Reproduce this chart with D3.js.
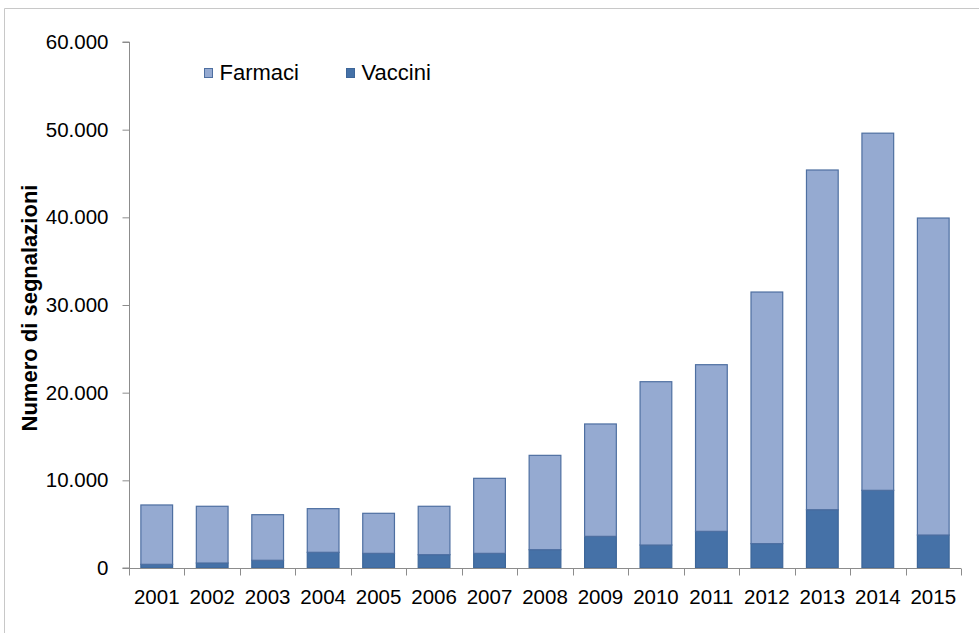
<!DOCTYPE html>
<html><head><meta charset="utf-8">
<script src="https://cdn.jsdelivr.net/npm/d3@7/dist/d3.min.js"></script>
<style>
body{margin:0;background:#fff;}
svg{display:block;font-family:"Liberation Sans",Arial,sans-serif;}
</style></head>
<body>
<svg id="c" width="979" height="633"></svg>
<script>
const years = ["2001","2002","2003","2004","2005","2006","2007","2008","2009","2010","2011","2012","2013","2014","2015"];
const vaccini = [420,570,880,1790,1670,1520,1670,2090,3610,2620,4180,2780,6650,8860,3760];
const farmaci = [6770,6470,5200,4980,4570,5520,8560,10760,12820,18630,19010,28700,38750,40740,36160];
const yTicks = [0,10000,20000,30000,40000,50000,60000];
const seriesNames = ["Farmaci","Vaccini"];

const svg = d3.select("#c");
// outer frame
svg.append("path").attr("d","M4.5,633 V8.5 H979").attr("fill","none").attr("stroke","#c8c8c8").attr("stroke-width",1);

const x = d3.scaleBand().domain(years).range([129,961]).paddingInner(0.41).paddingOuter(0.205);
const y = d3.scaleLinear().domain([0,60000]).range([568,42]);
const fmt = v => d3.format(",")(v).replace(/,/g,".");

const data = years.map((yr,i)=>({year:yr, vaccini:vaccini[i], farmaci:farmaci[i]}));
const stack = d3.stack().keys(["vaccini","farmaci"])(data);
const fills = {vaccini:"#4571A7", farmaci:"#95AAD1"};
const strokes = {vaccini:"#3D6699", farmaci:"#4E6FA1"};

stack.forEach(layer=>{
  svg.append("g").selectAll("rect").data(layer).join("rect")
    .attr("x",d=>x(d.data.year)+0.5)
    .attr("width",x.bandwidth()-1)
    .attr("y",d=>y(d[1]))
    .attr("height",d=>y(d[0])-y(d[1]))
    .attr("fill",fills[layer.key])
    .attr("stroke",strokes[layer.key])
    .attr("stroke-width",1.2);
});

// y axis
const yAxis = d3.axisLeft(y).tickValues(yTicks).tickFormat(fmt).tickSize(7).tickPadding(14);
const gy = svg.append("g").attr("transform","translate(129.5,0)").call(yAxis);
gy.select(".domain").attr("stroke","#8c8c8c").attr("d","M-7,42H0V568H-7");
gy.selectAll(".tick line").attr("stroke","#8c8c8c");
gy.selectAll("text").attr("font-size",20.5).attr("fill","#000").attr("font-family","Liberation Sans, Arial, sans-serif");

// x axis
const gx = svg.append("g").attr("transform","translate(0,568.5)");
gx.append("line").attr("x1",129).attr("x2",961).attr("stroke","#8c8c8c");
const step = x.step();
const bounds = d3.range(years.length+1).map(i=>129 + i*step);
gx.selectAll("line.tk").data(bounds).join("line").attr("class","tk")
  .attr("x1",d=>Math.round(d)+0.5).attr("x2",d=>Math.round(d)+0.5).attr("y1",0).attr("y2",7).attr("stroke","#8c8c8c");
gx.selectAll("text").data(years).join("text")
  .attr("x",d=>x(d)+x.bandwidth()/2).attr("y",35)
  .attr("text-anchor","middle").attr("font-size",20.5).attr("fill","#000").text(d=>d);

// y label
svg.append("text").attr("transform","translate(37,308) rotate(-90)")
  .attr("text-anchor","middle").attr("font-size",22).attr("font-weight","bold").text("Numero di segnalazioni");

// legend
const leg = svg.append("g");
const legX = [204,346];
seriesNames.forEach((n,i)=>{
  const k = n.toLowerCase();
  leg.append("rect").attr("x",legX[i]+0.5).attr("y",68.5).attr("width",8).attr("height",9)
    .attr("fill",fills[k]).attr("stroke",strokes[k]).attr("stroke-width",1);
  leg.append("text").attr("x",legX[i]+15.5).attr("y",79.5).attr("font-size",22).text(n);
});
</script>
</body></html>
